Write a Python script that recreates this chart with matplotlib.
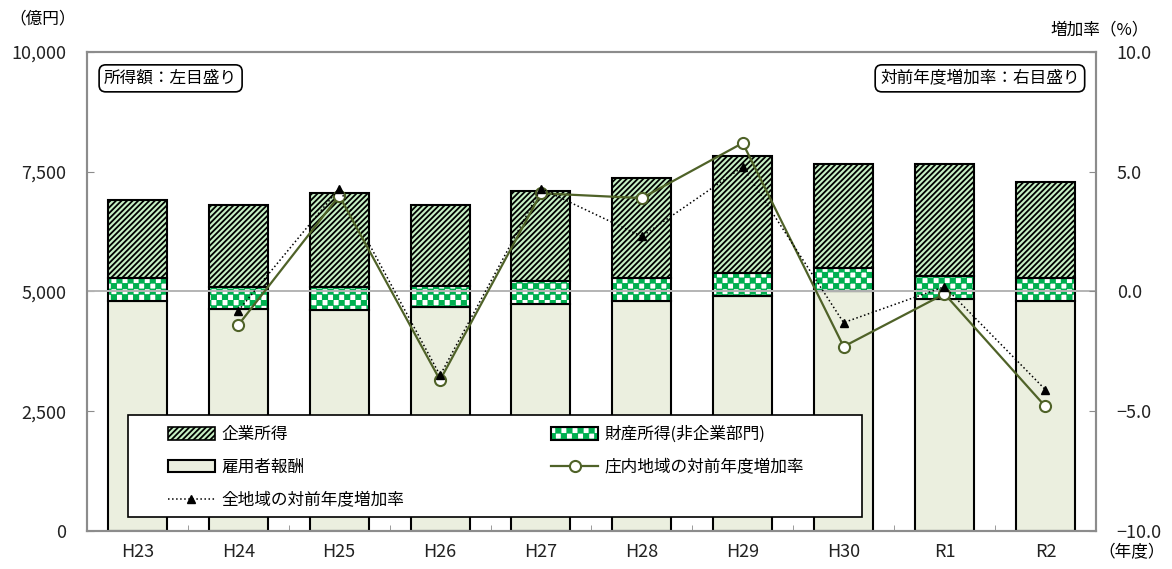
import warnings

import matplotlib
matplotlib.use("Agg")
import matplotlib.hatch as mhatch
import matplotlib.pyplot as plt
import numpy as np
from matplotlib.patches import Patch, Rectangle
from matplotlib.lines import Line2D
from matplotlib.path import Path
from matplotlib.ticker import FuncFormatter, FixedLocator

warnings.filterwarnings("ignore")

plt.rcParams['font.family'] = ['Noto Sans CJK JP', 'DejaVu Sans']
plt.rcParams['hatch.linewidth'] = 1.3

# データ（億円 / %）
years = ['H23', 'H24', 'H25', 'H26', 'H27', 'H28', 'H29', 'H30', 'R1', 'R2']
koyosha = [4800, 4640, 4610, 4680, 4745, 4800, 4905, 5010, 4845, 4810]   # 雇用者報酬
zaisan = [490, 455, 490, 440, 480, 480, 480, 475, 475, 480]              # 財産所得
kigyo = [1610, 1705, 1960, 1680, 1870, 2100, 2450, 2180, 2345, 2000]     # 企業所得
shonai_rate = [np.nan, -1.4, 4.0, -3.7, 4.1, 3.9, 6.2, -2.3, -0.1, -4.8]
zen_rate = [np.nan, -0.8, 4.3, -3.5, 4.3, 2.3, 5.2, -1.3, 0.2, -4.1]

OLIVE = '#4f6228'
GREEN = '#00b050'
GRAY = '#8c8c8c'
STRIPE = '//////'


# 市松模様のハッチ（'c' で指定）
class CheckerHatch(mhatch.HatchPatternBase):
    def __init__(self, hatch, density):
        self.n = 18 if 'c' in hatch else 0
        self.num_vertices = (self.n * self.n // 2) * 5

    def set_vertices_and_codes(self, vertices, codes):
        s = 1.0 / self.n
        m = 0.006
        k = 0
        for r in range(self.n):
            for c in range(self.n):
                if (r + c) % 2:
                    continue
                x, y = c * s + m, r * s + m
                w = s - 2 * m
                vertices[k:k + 5] = [[x, y], [x + w, y], [x + w, y + w], [x, y + w], [x, y]]
                codes[k:k + 5] = [Path.MOVETO, Path.LINETO, Path.LINETO,
                                  Path.LINETO, Path.CLOSEPOLY]
                k += 5


mhatch._hatch_types.append(CheckerHatch)

fig = plt.figure(figsize=(11.72, 5.69), dpi=100)
ax = fig.add_axes([0.0742, 0.0668, 0.8608, 0.8418])
ax2 = ax.twinx()

x = np.arange(len(years))
w = 0.585
base2 = np.array(koyosha)
base3 = base2 + np.array(zaisan)

ax.bar(x, koyosha, w, color='#ebefdf', edgecolor='black', linewidth=1.5, zorder=2)
ax.bar(x, zaisan, w, bottom=base2, color='white', edgecolor=GREEN,
       hatch='c', linewidth=0, zorder=2)
ax.bar(x, zaisan, w, bottom=base2, fill=False, edgecolor='black', linewidth=1.5, zorder=2.1)
ax.bar(x, kigyo, w, bottom=base3, color='#c6f0c4', edgecolor='black',
       hatch=STRIPE, linewidth=1.5, zorder=2)
ax.axhline(5000, color='#b4b4b4', linewidth=1.4, zorder=2.5)

ax.set_xlim(-0.5, len(years) - 0.5)
ax.set_ylim(0, 10000)
ax.set_yticks([0, 2500, 5000, 7500, 10000])
ax.yaxis.set_major_formatter(FuncFormatter(lambda v, p: f'{v:,.0f}'))
ax.set_xticks(x)
ax.set_xticklabels(years)
ax.xaxis.set_minor_locator(FixedLocator(x[:-1] + 0.5))
ax.tick_params(axis='x', which='major', length=0, labelsize=13, pad=9, colors='#222222')
ax.tick_params(axis='x', which='minor', length=4, direction='in', color=GRAY)
ax.tick_params(axis='y', direction='in', length=5, color=GRAY, labelsize=13, pad=15,
               labelcolor='#222222')

# 増加率（右目盛り）
ax2.plot(x, shonai_rate, color=OLIVE, linewidth=1.6, marker='o', markersize=8,
         markerfacecolor='white', markeredgecolor=OLIVE, markeredgewidth=1.5, zorder=4)
ax2.plot(x, zen_rate, color='black', linewidth=1.1, linestyle=':', marker='^',
         markersize=6, markerfacecolor='black', zorder=5)
ax2.set_ylim(-10, 10)
ax2.set_yticks([-10, -5, 0, 5, 10])
ax2.yaxis.set_major_formatter(FuncFormatter(lambda v, p: f'{v:.1f}'.replace('-', '−')))
ax2.tick_params(axis='y', direction='in', length=5, color=GRAY, labelsize=13, pad=15,
                labelcolor='#222222')

for a in (ax, ax2):
    for sp in a.spines.values():
        sp.set_color(GRAY)
        sp.set_linewidth(1.5)

# 凡例（枠は別に描く）
ax2.add_patch(Rectangle((0.0406, 0.0292), 0.7274, 0.2129, transform=ax2.transAxes,
                        facecolor='white', edgecolor='black', linewidth=1.2, zorder=9))
h_kigyo = Patch(facecolor='#c6f0c4', edgecolor='black', hatch=STRIPE, linewidth=1.2)
h_zai_fill = Patch(facecolor='white', edgecolor=GREEN, hatch='c', linewidth=0)
h_zai_edge = Patch(fill=False, edgecolor='black', linewidth=1.5)
h_koyo = Patch(facecolor='#ebefdf', edgecolor='black', linewidth=1.5)
h_shonai = Line2D([], [], color=OLIVE, linewidth=1.6, marker='o', markersize=8,
                  markerfacecolor='white', markeredgecolor=OLIVE, markeredgewidth=1.5)
h_zen = Line2D([], [], color='black', linewidth=1.1, linestyle=':', marker='^',
               markersize=6, markerfacecolor='black')
leg = ax2.legend([h_kigyo, h_koyo, h_zen, (h_zai_fill, h_zai_edge), h_shonai],
                 ['企業所得', '雇用者報酬', '全地域の対前年度増加率',
                  '財産所得(非企業部門)', '庄内地域の対前年度増加率'],
                 loc='upper left', bbox_to_anchor=(0.0803, 0.219),
                 ncol=2, fontsize=12, frameon=False,
                 handlelength=2.8, handleheight=0.75, labelspacing=0.95,
                 borderpad=0, handletextpad=0.42, borderaxespad=0, columnspacing=8.8)
leg.set_zorder(10)

box = dict(boxstyle='round,pad=0.3,rounding_size=0.4', facecolor='white',
           edgecolor='black', linewidth=1.2)
ax2.text(0.017, 0.945, '所得額：左目盛り', transform=ax2.transAxes, fontsize=12,
         ha='left', va='center', bbox=box, zorder=10)
ax2.text(0.984, 0.945, '対前年度増加率：右目盛り', transform=ax2.transAxes, fontsize=12,
         ha='right', va='center', bbox=box, zorder=10)

fig.text(0.008, 0.966, '（億円）', fontsize=12, ha='left', va='center')
fig.text(0.98, 0.948, '増加率（%）', fontsize=12, ha='right', va='center')
fig.text(0.994, 0.028, '（年度）', fontsize=12, ha='right', va='center')

fig.savefig('out.png', dpi=100)
